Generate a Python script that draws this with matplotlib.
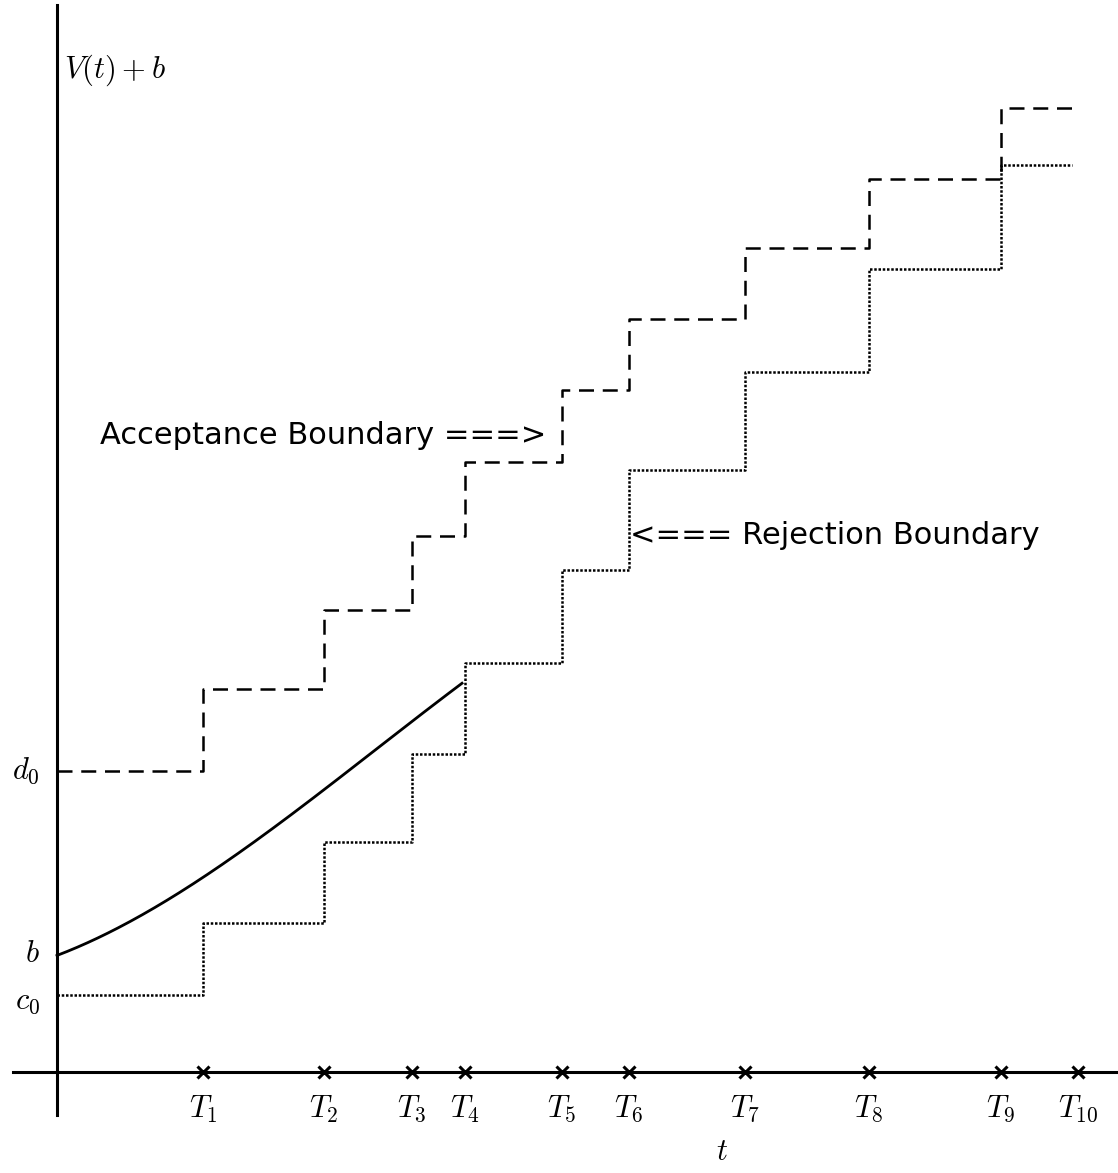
import matplotlib.pyplot as plt
import numpy as np

plt.rcParams['mathtext.fontset'] = 'cm'

# arrival times T1..T10 (plot units)
T = [1.46, 2.67, 3.55, 4.08, 5.05, 5.72, 6.88, 8.12, 9.44, 10.21]
t_end = 10.18

# acceptance boundary levels (d0, d1, ... d9), dashed
acc_levels = [3.01, 3.83, 4.62, 5.36, 6.10, 6.82, 7.53, 8.24, 8.93, 9.64]
# rejection boundary levels (c0, c1, ... c9), dotted
rej_levels = [0.77, 1.49, 2.30, 3.18, 4.09, 5.02, 6.02, 7.00, 8.03, 9.07]
b_val = 1.19

# V(t)+b path, stopped at T4
curve_t = [0.0, 0.30, 0.60, 0.93, 1.43, 2.06, 2.66, 3.00, 3.53, 4.05]
curve_v = [1.19, 1.27, 1.39, 1.65, 1.95, 2.35, 2.82, 3.07, 3.49, 3.89]


def step_xy(levels, times, end):
    xs = [0.0] + list(times[:len(levels) - 1]) + [end]
    return xs, levels + [levels[-1]]


fig = plt.figure(figsize=(11.18, 11.73), dpi=100)
ax = fig.add_axes([0, 0, 1, 1])
ax.set_xlim(-0.57, 10.61)
ax.set_ylim(-1.01, 10.72)
ax.axis('off')

# axes drawn by hand, like the original sketch
ax.plot([0, 0], [-0.43, 10.67], color='black', lw=2.2)
ax.plot([-0.44, 10.61], [0, 0], color='black', lw=2.2)

xs, ys = step_xy(acc_levels, T, t_end)
ax.step(xs, ys, where='post', color='black', lw=1.8, linestyle=(0, (6, 3.5)))

xs, ys = step_xy(rej_levels, T, t_end - 0.03)
ax.step(xs, ys, where='post', color='black', lw=1.8, linestyle=(0, (1.0, 0.7)))

# smooth line through the points
coef = np.polyfit(curve_t, curve_v, 3)
tt = np.linspace(curve_t[0], curve_t[-1], 200)
ax.plot(tt, np.polyval(coef, tt), color='black', lw=2.0)

ax.plot(T, [0] * len(T), linestyle='none', marker='x', color='black',
        markersize=9, mew=2.2)

for i, ti in enumerate(T):
    ax.text(ti, -0.37, r'$T_{%d}$' % (i + 1), fontsize=22, ha='center', va='center')
ax.text(6.65, -0.80, r'$t$', fontsize=22, ha='center', va='center')

ax.text(0.07, 10.02, r'$V(t)+b$', fontsize=22, ha='left', va='center')
ax.text(-0.17, acc_levels[0], r'$d_0$', fontsize=22, ha='right', va='center')
ax.text(-0.17, b_val, r'$b$', fontsize=22, ha='right', va='center')
ax.text(-0.17, rej_levels[0] - 0.06, r'$c_0$', fontsize=22, ha='right', va='center')

ax.text(0.43, 6.36, 'Acceptance Boundary ===>', fontsize=22,
        family='DejaVu Sans', ha='left', va='center')
ax.text(5.73, 5.37, '<=== Rejection Boundary', fontsize=22,
        family='DejaVu Sans', ha='left', va='center')

fig.savefig('out.png', dpi=100)
